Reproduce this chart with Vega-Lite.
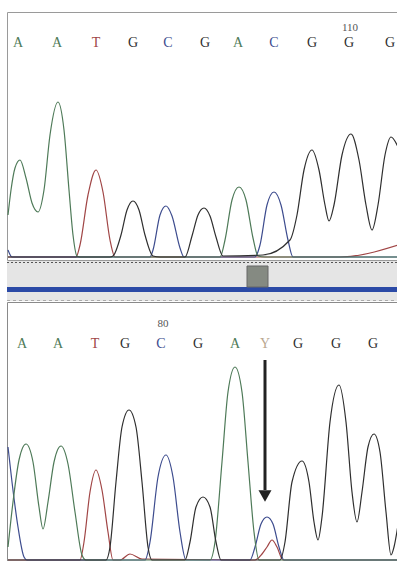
{
  "$schema": "https://vega.github.io/schema/vega-lite/v6.json",
  "background": "white",
  "padding": {"left": 4, "top": 11, "right": 0, "bottom": 0},
  "spacing": 0,
  "config": {"view": {"stroke": null}, "axis": {"disable": true}, "legend": {"disable": true}},
  "datasets": {
    "top_traces": [
      {"base": "T", "scan": 1, "signal": 0}, {"base": "T", "scan": 69, "signal": 0}, {"base": "T", "scan": 73, "signal": 48}, {"base": "T", "scan": 81, "signal": 248}, {"base": "T", "scan": 89, "signal": 348}, {"base": "T", "scan": 96, "signal": 260}, {"base": "T", "scan": 103, "signal": 68}, {"base": "T", "scan": 108, "signal": 0}, {"base": "T", "scan": 333, "signal": 0}, {"base": "T", "scan": 391, "signal": 48},
      {"base": "C", "scan": 1, "signal": 28}, {"base": "C", "scan": 5, "signal": 0}, {"base": "C", "scan": 143, "signal": 0}, {"base": "C", "scan": 146, "signal": 28}, {"base": "C", "scan": 153, "signal": 168}, {"base": "C", "scan": 159, "signal": 204}, {"base": "C", "scan": 165, "signal": 164}, {"base": "C", "scan": 173, "signal": 36}, {"base": "C", "scan": 177, "signal": 0}, {"base": "C", "scan": 248, "signal": 0}, {"base": "C", "scan": 253, "signal": 48}, {"base": "C", "scan": 260, "signal": 208}, {"base": "C", "scan": 267, "signal": 260}, {"base": "C", "scan": 274, "signal": 208}, {"base": "C", "scan": 281, "signal": 68}, {"base": "C", "scan": 286, "signal": 0}, {"base": "C", "scan": 391, "signal": 0},
      {"base": "A", "scan": 1, "signal": 168}, {"base": "A", "scan": 4, "signal": 268}, {"base": "A", "scan": 8, "signal": 356}, {"base": "A", "scan": 13, "signal": 388}, {"base": "A", "scan": 19, "signal": 316}, {"base": "A", "scan": 25, "signal": 216}, {"base": "A", "scan": 31, "signal": 180}, {"base": "A", "scan": 37, "signal": 268}, {"base": "A", "scan": 43, "signal": 488}, {"base": "A", "scan": 51, "signal": 620}, {"base": "A", "scan": 57, "signal": 508}, {"base": "A", "scan": 62, "signal": 268}, {"base": "A", "scan": 66, "signal": 88}, {"base": "A", "scan": 70, "signal": 4}, {"base": "A", "scan": 73, "signal": 0}, {"base": "A", "scan": 213, "signal": 0}, {"base": "A", "scan": 218, "signal": 68}, {"base": "A", "scan": 225, "signal": 228}, {"base": "A", "scan": 232, "signal": 280}, {"base": "A", "scan": 239, "signal": 228}, {"base": "A", "scan": 246, "signal": 76}, {"base": "A", "scan": 251, "signal": 4}, {"base": "A", "scan": 258, "signal": 0}, {"base": "A", "scan": 391, "signal": 0},
      {"base": "G", "scan": 1, "signal": 0}, {"base": "G", "scan": 103, "signal": 0}, {"base": "G", "scan": 106, "signal": 4}, {"base": "G", "scan": 114, "signal": 88}, {"base": "G", "scan": 120, "signal": 188}, {"base": "G", "scan": 126, "signal": 224}, {"base": "G", "scan": 132, "signal": 188}, {"base": "G", "scan": 138, "signal": 88}, {"base": "G", "scan": 146, "signal": 4}, {"base": "G", "scan": 153, "signal": 0}, {"base": "G", "scan": 178, "signal": 0}, {"base": "G", "scan": 185, "signal": 84}, {"base": "G", "scan": 191, "signal": 168}, {"base": "G", "scan": 197, "signal": 196}, {"base": "G", "scan": 203, "signal": 164}, {"base": "G", "scan": 209, "signal": 80}, {"base": "G", "scan": 216, "signal": 4}, {"base": "G", "scan": 256, "signal": 8}, {"base": "G", "scan": 283, "signal": 68}, {"base": "G", "scan": 290, "signal": 168}, {"base": "G", "scan": 297, "signal": 348}, {"base": "G", "scan": 305, "signal": 428}, {"base": "G", "scan": 312, "signal": 348}, {"base": "G", "scan": 318, "signal": 208}, {"base": "G", "scan": 322, "signal": 144}, {"base": "G", "scan": 327, "signal": 208}, {"base": "G", "scan": 335, "signal": 408}, {"base": "G", "scan": 344, "signal": 492}, {"base": "G", "scan": 352, "signal": 388}, {"base": "G", "scan": 359, "signal": 208}, {"base": "G", "scan": 365, "signal": 108}, {"base": "G", "scan": 371, "signal": 208}, {"base": "G", "scan": 378, "signal": 408}, {"base": "G", "scan": 384, "signal": 480}, {"base": "G", "scan": 391, "signal": 440}
    ],
    "bottom_traces": [
      {"base": "T", "scan": 1, "signal": 0}, {"base": "T", "scan": 73, "signal": 0}, {"base": "T", "scan": 77, "signal": 72}, {"base": "T", "scan": 83, "signal": 272}, {"base": "T", "scan": 89, "signal": 360}, {"base": "T", "scan": 95, "signal": 280}, {"base": "T", "scan": 101, "signal": 112}, {"base": "T", "scan": 106, "signal": 0}, {"base": "T", "scan": 113, "signal": 0}, {"base": "T", "scan": 123, "signal": 24}, {"base": "T", "scan": 135, "signal": 4}, {"base": "T", "scan": 248, "signal": 0}, {"base": "T", "scan": 255, "signal": 24}, {"base": "T", "scan": 260, "signal": 52}, {"base": "T", "scan": 265, "signal": 80}, {"base": "T", "scan": 270, "signal": 52}, {"base": "T", "scan": 276, "signal": 0}, {"base": "T", "scan": 391, "signal": 0},
      {"base": "C", "scan": 1, "signal": 452}, {"base": "C", "scan": 5, "signal": 312}, {"base": "C", "scan": 11, "signal": 132}, {"base": "C", "scan": 17, "signal": 12}, {"base": "C", "scan": 20, "signal": 0}, {"base": "C", "scan": 138, "signal": 0}, {"base": "C", "scan": 143, "signal": 72}, {"base": "C", "scan": 151, "signal": 332}, {"base": "C", "scan": 159, "signal": 420}, {"base": "C", "scan": 166, "signal": 332}, {"base": "C", "scan": 173, "signal": 112}, {"base": "C", "scan": 179, "signal": 0}, {"base": "C", "scan": 243, "signal": 0}, {"base": "C", "scan": 248, "signal": 52}, {"base": "C", "scan": 254, "signal": 144}, {"base": "C", "scan": 260, "signal": 172}, {"base": "C", "scan": 266, "signal": 144}, {"base": "C", "scan": 272, "signal": 52}, {"base": "C", "scan": 277, "signal": 0}, {"base": "C", "scan": 391, "signal": 0},
      {"base": "A", "scan": 1, "signal": 52}, {"base": "A", "scan": 6, "signal": 232}, {"base": "A", "scan": 12, "signal": 400}, {"base": "A", "scan": 19, "signal": 464}, {"base": "A", "scan": 26, "signal": 392}, {"base": "A", "scan": 32, "signal": 212}, {"base": "A", "scan": 36, "signal": 124}, {"base": "A", "scan": 41, "signal": 232}, {"base": "A", "scan": 47, "signal": 392}, {"base": "A", "scan": 54, "signal": 456}, {"base": "A", "scan": 61, "signal": 384}, {"base": "A", "scan": 68, "signal": 192}, {"base": "A", "scan": 75, "signal": 20}, {"base": "A", "scan": 79, "signal": 0}, {"base": "A", "scan": 203, "signal": 0}, {"base": "A", "scan": 208, "signal": 72}, {"base": "A", "scan": 215, "signal": 392}, {"base": "A", "scan": 221, "signal": 672}, {"base": "A", "scan": 228, "signal": 772}, {"base": "A", "scan": 235, "signal": 672}, {"base": "A", "scan": 241, "signal": 392}, {"base": "A", "scan": 247, "signal": 112}, {"base": "A", "scan": 252, "signal": 0}, {"base": "A", "scan": 391, "signal": 0},
      {"base": "G", "scan": 1, "signal": 0}, {"base": "G", "scan": 99, "signal": 0}, {"base": "G", "scan": 103, "signal": 52}, {"base": "G", "scan": 109, "signal": 312}, {"base": "G", "scan": 115, "signal": 532}, {"base": "G", "scan": 122, "signal": 600}, {"base": "G", "scan": 129, "signal": 532}, {"base": "G", "scan": 135, "signal": 312}, {"base": "G", "scan": 141, "signal": 52}, {"base": "G", "scan": 145, "signal": 0}, {"base": "G", "scan": 178, "signal": 0}, {"base": "G", "scan": 183, "signal": 72}, {"base": "G", "scan": 189, "signal": 212}, {"base": "G", "scan": 196, "signal": 252}, {"base": "G", "scan": 203, "signal": 212}, {"base": "G", "scan": 209, "signal": 72}, {"base": "G", "scan": 214, "signal": 0}, {"base": "G", "scan": 273, "signal": 0}, {"base": "G", "scan": 278, "signal": 72}, {"base": "G", "scan": 285, "signal": 312}, {"base": "G", "scan": 295, "signal": 396}, {"base": "G", "scan": 302, "signal": 312}, {"base": "G", "scan": 307, "signal": 152}, {"base": "G", "scan": 311, "signal": 80}, {"base": "G", "scan": 315, "signal": 172}, {"base": "G", "scan": 323, "signal": 552}, {"base": "G", "scan": 332, "signal": 700}, {"base": "G", "scan": 339, "signal": 552}, {"base": "G", "scan": 345, "signal": 272}, {"base": "G", "scan": 350, "signal": 152}, {"base": "G", "scan": 355, "signal": 272}, {"base": "G", "scan": 361, "signal": 452}, {"base": "G", "scan": 367, "signal": 504}, {"base": "G", "scan": 373, "signal": 432}, {"base": "G", "scan": 379, "signal": 192}, {"base": "G", "scan": 384, "signal": 20}, {"base": "G", "scan": 387, "signal": 52}, {"base": "G", "scan": 391, "signal": 140}
    ],
    "top_calls": [
      {"base": "A", "scan": 11}, {"base": "A", "scan": 50}, {"base": "T", "scan": 89}, {"base": "G", "scan": 126}, {"base": "C", "scan": 161}, {"base": "G", "scan": 198}, {"base": "A", "scan": 231}, {"base": "C", "scan": 267}, {"base": "G", "scan": 305}, {"base": "G", "scan": 342}, {"base": "G", "scan": 383}
    ],
    "bottom_calls": [
      {"base": "A", "scan": 15}, {"base": "A", "scan": 51}, {"base": "T", "scan": 88}, {"base": "G", "scan": 118}, {"base": "C", "scan": 154}, {"base": "G", "scan": 191}, {"base": "A", "scan": 228}, {"base": "Y", "scan": 258}, {"base": "G", "scan": 291}, {"base": "G", "scan": 329}, {"base": "G", "scan": 366}
    ],
    "scroll": [{"start": 0, "end": 391, "window_start": 240, "window_end": 261}],
    "mutation": [{"scan": 258, "from": 800, "to": 280, "head": 256}]
  },
  "vconcat": [
    {
      "width": 391,
      "height": 248,
      "view": {"stroke": "#9a9a9a", "strokeWidth": 1},
      "layer": [
        {
          "data": {"name": "top_traces"},
          "mark": {"type": "line", "interpolate": "monotone", "strokeWidth": 1.2, "clip": true},
          "encoding": {
            "x": {"field": "scan", "type": "quantitative", "scale": {"domain": [0, 391], "nice": false, "zero": false}, "axis": null},
            "y": {"field": "signal", "type": "quantitative", "scale": {"domain": [-12, 980], "nice": false, "zero": false}, "axis": null},
            "color": {"field": "base", "type": "nominal", "scale": {"domain": ["A", "C", "G", "T", "Y"], "range": ["#4e7a58", "#3d4c8e", "#2f2f2f", "#a04545", "#b9a78f"]}, "legend": null},
            "order": {"field": "scan", "type": "quantitative"}
          }
        },
        {
          "data": {"name": "top_calls"},
          "mark": {"type": "text", "font": "Liberation Serif", "fontSize": 14, "align": "center", "baseline": "middle"},
          "encoding": {
            "x": {"field": "scan", "type": "quantitative", "axis": null},
            "y": {"datum": 856, "type": "quantitative"},
            "text": {"field": "base"},
            "color": {"field": "base", "type": "nominal", "legend": null}
          }
        },
        {
          "data": {"values": [{"scan": 343, "label": "110"}]},
          "mark": {"type": "text", "font": "Liberation Serif", "fontSize": 11, "align": "center", "baseline": "middle", "color": "#555"},
          "encoding": {
            "x": {"field": "scan", "type": "quantitative", "axis": null},
            "y": {"datum": 916, "type": "quantitative"},
            "text": {"field": "label"}
          }
        }
      ]
    },
    {
      "width": 391,
      "height": 40,
      "view": {"fill": "#e5e5e5", "stroke": null},
      "data": {"name": "scroll"},
      "layer": [
        {
          "mark": {"type": "rule", "color": "#555", "strokeWidth": 1, "strokeDash": [2, 2]},
          "encoding": {
            "x": {"field": "start", "type": "quantitative", "scale": {"domain": [0, 391], "nice": false, "zero": false}, "axis": null},
            "x2": {"field": "end"},
            "y": {"datum": 38.5, "type": "quantitative", "scale": {"domain": [0, 40], "nice": false, "zero": false}, "axis": null}
          }
        },
        {
          "mark": {"type": "rule", "color": "#2b4aa6", "strokeWidth": 5},
          "encoding": {
            "x": {"field": "start", "type": "quantitative", "axis": null},
            "x2": {"field": "end"},
            "y": {"datum": 11.5, "type": "quantitative"}
          }
        },
        {
          "mark": {"type": "rect", "color": "#858a82", "stroke": "#666", "strokeWidth": 1},
          "encoding": {
            "x": {"field": "window_start", "type": "quantitative", "axis": null},
            "x2": {"field": "window_end"},
            "y": {"datum": 35, "type": "quantitative"},
            "y2": {"datum": 14}
          }
        },
        {
          "mark": {"type": "rule", "color": "#aaa", "strokeWidth": 1, "strokeDash": [3, 3]},
          "encoding": {
            "x": {"field": "start", "type": "quantitative", "axis": null},
            "x2": {"field": "end"},
            "y": {"datum": 0.5, "type": "quantitative"}
          }
        }
      ]
    },
    {
      "width": 391,
      "height": 261,
      "view": {"stroke": "#8a8a8a", "strokeWidth": 1},
      "layer": [
        {
          "data": {"name": "bottom_traces"},
          "mark": {"type": "line", "interpolate": "monotone", "strokeWidth": 1.2, "clip": true},
          "encoding": {
            "x": {"field": "scan", "type": "quantitative", "scale": {"domain": [0, 391], "nice": false, "zero": false}, "axis": null},
            "y": {"field": "signal", "type": "quantitative", "scale": {"domain": [-12, 1032], "nice": false, "zero": false}, "axis": null},
            "color": {"field": "base", "type": "nominal", "legend": null},
            "order": {"field": "scan", "type": "quantitative"}
          }
        },
        {
          "data": {"name": "bottom_calls"},
          "mark": {"type": "text", "font": "Liberation Serif", "fontSize": 14, "align": "center", "baseline": "middle"},
          "encoding": {
            "x": {"field": "scan", "type": "quantitative", "axis": null},
            "y": {"datum": 864, "type": "quantitative"},
            "text": {"field": "base"},
            "color": {"field": "base", "type": "nominal", "legend": null}
          }
        },
        {
          "data": {"values": [{"scan": 156, "label": "80"}]},
          "mark": {"type": "text", "font": "Liberation Serif", "fontSize": 11, "align": "center", "baseline": "middle", "color": "#555"},
          "encoding": {
            "x": {"field": "scan", "type": "quantitative", "axis": null},
            "y": {"datum": 944, "type": "quantitative"},
            "text": {"field": "label"}
          }
        },
        {
          "data": {"name": "mutation"},
          "mark": {"type": "rule", "color": "#222", "strokeWidth": 3},
          "encoding": {
            "x": {"field": "scan", "type": "quantitative", "axis": null},
            "y": {"field": "from", "type": "quantitative"},
            "y2": {"field": "to"}
          }
        },
        {
          "data": {"name": "mutation"},
          "mark": {"type": "point", "shape": "triangle-down", "filled": true, "color": "#222", "size": 170, "opacity": 1},
          "encoding": {
            "x": {"field": "scan", "type": "quantitative", "axis": null},
            "y": {"field": "head", "type": "quantitative"}
          }
        }
      ]
    }
  ]
}
